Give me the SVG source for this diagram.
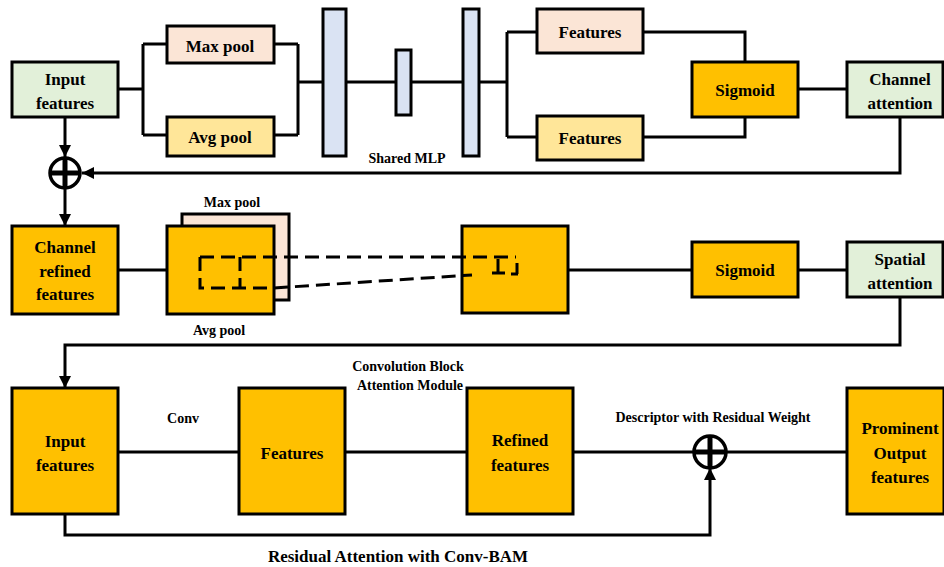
<svg xmlns="http://www.w3.org/2000/svg" width="944" height="567" viewBox="0 0 944 567">
<defs>
<style>
.box{stroke:#000;stroke-width:3}
.g{fill:#E2F0D9}.p{fill:#FBE5D6}.y{fill:#FFE699}.o{fill:#FFC000}.b{fill:#DAE3F3}
.ln{fill:none;stroke:#000;stroke-width:3}
.ds{fill:none;stroke:#000;stroke-width:3;stroke-dasharray:14 7}
text{font-family:"Liberation Serif","Times New Roman",serif;font-weight:bold;fill:#000;text-anchor:middle}
.t{font-size:17px}.s{font-size:14px}.l{font-size:17px}
</style>
<marker id="ar" viewBox="0 0 10 10" refX="10" refY="5" markerWidth="4" markerHeight="4" orient="auto" markerUnits="strokeWidth">
<path d="M0,0 L10,5 L0,10 Z" fill="#000"/>
</marker>
</defs>

<g id="connectors">
<path class="ln" d="M118,89 H143 M143,44 V135 M143,44 H167 M143,135 H167"/>
<path class="ln" d="M274,44 H298 M274,135 H298 M298,44 V135 M298,82 H323"/>
<path class="ln" d="M346,82 H396 M411,82 H463 M479,82 H507 M507,32 V137 M507,32 H537 M507,137 H537"/>
<path class="ln" d="M643,32 H745 V62 M643,137 H745 V117"/>
<path class="ln" d="M798,89 H847"/>
<path class="ln" d="M900,117 V173 H82" marker-end="url(#ar)"/>
<path class="ln" d="M65,117 V157" marker-end="url(#ar)"/>
<path class="ln" d="M65,189 V226" marker-end="url(#ar)"/>
<path class="ln" d="M118,270 H167"/>
<path class="ln" d="M568,270 H692 M798,270 H847"/>
<path class="ln" d="M900,297 V345 H65 V388" marker-end="url(#ar)"/>
<path class="ln" d="M118,452 H239 M345,452 H467 M573,452 H694 M726,452 H847"/>
<path class="ln" d="M65,514 V535 H710 V468" marker-end="url(#ar)"/>
</g>

<g id="input-features-top">
<rect class="box g" x="12" y="62" width="106" height="55"/>
<text class="t" x="65" y="85">Input</text>
<text class="t" x="65" y="109">features</text>
</g>
<g id="max-pool">
<rect class="box p" x="167" y="26" width="107" height="37"/>
<text class="t" x="220" y="52">Max pool</text>
</g>
<g id="avg-pool">
<rect class="box y" x="167" y="117" width="107" height="39"/>
<text class="t" x="220" y="143">Avg pool</text>
</g>
<g id="shared-mlp">
<rect class="box b" x="323" y="9" width="23" height="147"/>
<rect class="box b" x="396" y="50" width="15" height="65"/>
<rect class="box b" x="463" y="9" width="16" height="147"/>
<text class="s" x="407" y="163">Shared MLP</text>
</g>
<g id="features-top">
<rect class="box p" x="537" y="9" width="106" height="44"/>
<text class="t" x="590" y="38">Features</text>
</g>
<g id="features-bottom">
<rect class="box y" x="537" y="116" width="106" height="44"/>
<text class="t" x="590" y="144">Features</text>
</g>
<g id="sigmoid-1">
<rect class="box o" x="692" y="62" width="106" height="55"/>
<text class="t" x="745" y="96">Sigmoid</text>
</g>
<g id="channel-attention">
<rect class="box g" x="847" y="62" width="96" height="55"/>
<text class="t" x="900" y="85">Channel</text>
<text class="t" x="900" y="109">attention</text>
</g>
<g id="sum-1">
<circle cx="65" cy="173" r="15" fill="#fff" stroke="#000" stroke-width="3.5"/>
<path d="M65,158 V188 M50,173 H80" stroke="#000" stroke-width="5"/>
</g>

<g id="channel-refined">
<rect class="box o" x="12" y="226" width="106" height="88"/>
<text class="t" x="65" y="253">Channel</text>
<text class="t" x="65" y="277">refined</text>
<text class="t" x="65" y="300">features</text>
</g>
<g id="pool-stack">
<text class="s" x="232" y="207">Max pool</text>
<rect class="box p" x="182" y="214" width="107" height="86"/>
<rect class="box o" x="167" y="226" width="107" height="88"/>
<text class="s" x="219" y="335">Avg pool</text>
</g>
<g id="conv-map">
<rect class="box o" x="462" y="226" width="106" height="87"/>
</g>
<g id="dashed-projection">
<path class="ds" d="M200,257 H516"/>
<path class="ds" d="M200,257 V288 H274 L472,275"/>
<path class="ds" d="M240,257 V288"/>
<path class="ln" d="M498,259 V273 M492,273 H505 M517,263 V274 M511,274 H518"/>
</g>
<g id="sigmoid-2">
<rect class="box o" x="692" y="242" width="106" height="55"/>
<text class="t" x="745" y="276">Sigmoid</text>
</g>
<g id="spatial-attention">
<rect class="box g" x="847" y="242" width="96" height="55"/>
<text class="t" x="900" y="265">Spatial</text>
<text class="t" x="900" y="289">attention</text>
</g>

<g id="input-features-bottom">
<rect class="box o" x="12" y="388" width="106" height="126"/>
<text class="t" x="65" y="447">Input</text>
<text class="t" x="65" y="471">features</text>
</g>
<text class="s" x="183" y="423">Conv</text>
<g id="features-mid">
<rect class="box o" x="239" y="388" width="106" height="126"/>
<text class="t" x="292" y="459">Features</text>
</g>
<text class="s" x="408" y="371">Convolution Block</text>
<text class="s" x="410" y="390">Attention Module</text>
<g id="refined-features">
<rect class="box o" x="467" y="388" width="106" height="126"/>
<text class="t" x="520" y="446">Refined</text>
<text class="t" x="520" y="471">features</text>
</g>
<text class="s" x="713" y="422">Descriptor with Residual Weight</text>
<g id="sum-2">
<circle cx="710" cy="452" r="16" fill="#fff" stroke="#000" stroke-width="3.5"/>
<path d="M710,436 V468 M694,452 H726" stroke="#000" stroke-width="5"/>
</g>
<g id="prominent-output">
<rect class="box o" x="847" y="388" width="97" height="126"/>
<text class="t" x="900" y="434">Prominent</text>
<text class="t" x="900" y="459">Output</text>
<text class="t" x="900" y="483">features</text>
</g>
<text class="l" x="398" y="562">Residual Attention with Conv-BAM</text>
</svg>
